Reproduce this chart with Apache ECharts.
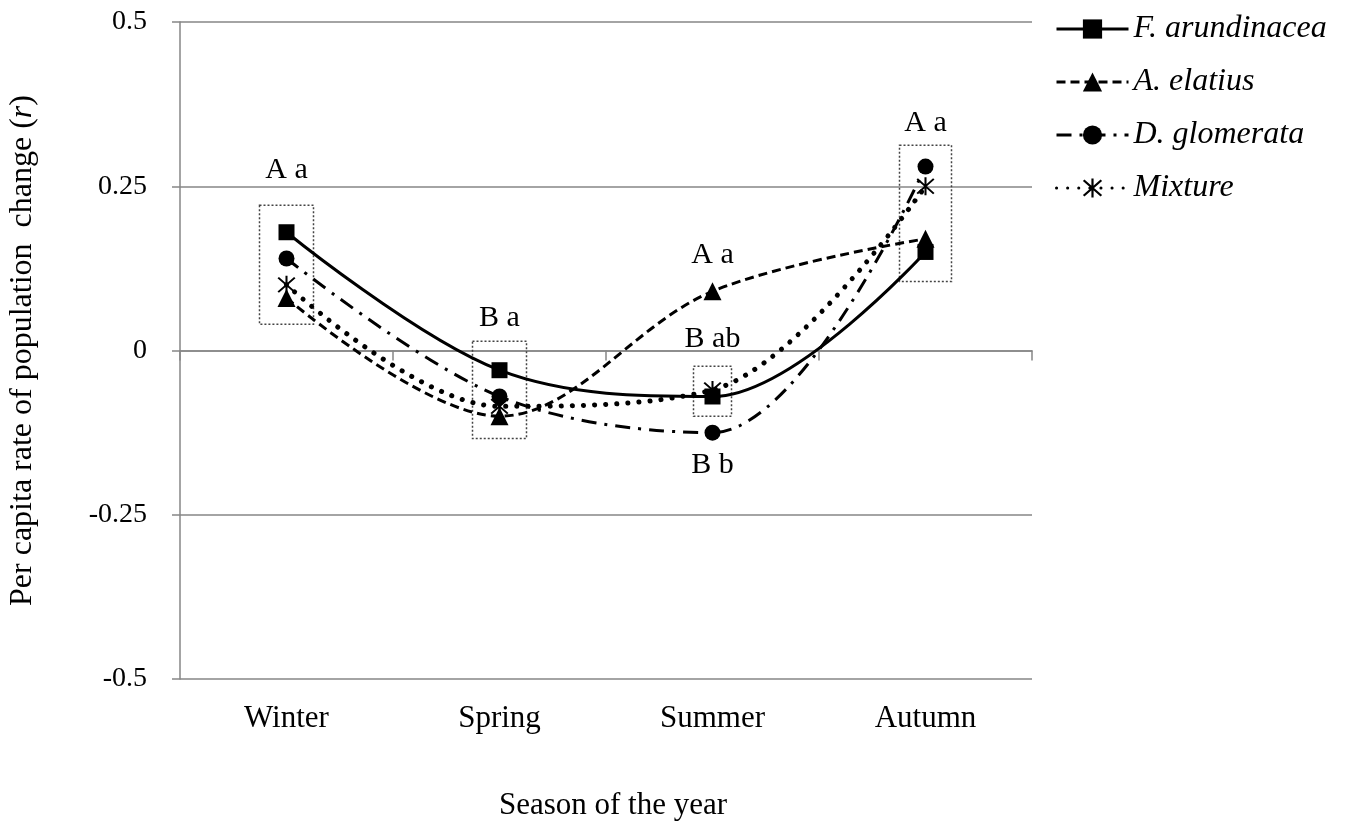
<!DOCTYPE html>
<html>
<head>
<meta charset="utf-8">
<script src="https://cdn.jsdelivr.net/npm/echarts@6/dist/echarts.min.js"></script>
<style>
  html, body { margin: 0; padding: 0; background: #fff; }
  #chart { width: 1345px; height: 824px; }
</style>
</head>
<body>
<div id="chart"></div>
<script>
// Seasons on the category axis
const seasons = ['Winter', 'Spring', 'Summer', 'Autumn'];

// Per capita rate of population change (r) for each population
const fArundinacea = [0.18, -0.03, -0.07, 0.15];
const aElatius     = [0.08, -0.10, 0.09, 0.17];
const dGlomerata   = [0.14, -0.07, -0.125, 0.28];
const mixture      = [0.10, -0.085, -0.06, 0.25];

// Significance letters: [season, r position, text]
const groupLetters = [
  ['Winter', 0.274, 'A a'],
  ['Spring', 0.049, 'B a'],
  ['Summer', 0.145, 'A a'],
  ['Summer', 0.018, 'B ab'],
  ['Summer', -0.175, 'B b'],
  ['Autumn', 0.346, 'A a']
];

// Ranges enclosed by the dotted group boxes: [season, low r, high r]
const groupRanges = [
  ['Winter', 0.040, 0.221],
  ['Spring', -0.134, 0.014],
  ['Summer', -0.100, -0.024],
  ['Autumn', 0.105, 0.3125]
];

// ---- layout / style ----
const FONT = 'Liberation Serif';
const GRID_COLOR = '#868686';
const boxHalfWidth = { Winter: 27, Spring: 27, Summer: 19, Autumn: 26 };

const asteriskPath = 'path://M4.5,0 L5.5,0 L5.5,10 L4.5,10 Z ' +
  'M0.6,1.3 L1.3,0.6 L9.4,8.7 L8.7,9.4 Z ' +
  'M8.7,0.6 L9.4,1.3 L1.3,9.4 L0.6,8.7 Z';

const SMOOTH = 0.35;

function lineSeries(name, data, symbol, symbolSize, lineStyle) {
  return {
    name: name,
    type: 'line',
    data: data,
    smooth: SMOOTH,
    symbol: symbol,
    symbolSize: symbolSize,
    showAllSymbol: true,
    itemStyle: { color: '#000' },
    lineStyle: Object.assign({ color: '#000', width: 3 }, lineStyle),
    z: 3
  };
}

const chart = echarts.init(document.getElementById('chart'), null, { renderer: 'canvas' });

chart.setOption({
  animation: false,
  backgroundColor: '#fff',
  grid: { left: 180, right: 313, top: 22, bottom: 145, containLabel: false, outerBoundsMode: 'none' },
  legend: {
    orient: 'vertical',
    left: 1050,
    top: 8,
    itemWidth: 72,
    itemHeight: 24,
    itemGap: 21,
    data: ['F. arundinacea', 'A. elatius', 'D. glomerata', 'Mixture'],
    lineStyle: { width: 3 },
    textStyle: { fontFamily: FONT, fontSize: 32, fontStyle: 'italic', color: '#000', lineHeight: 32 }
  },
  xAxis: [
    {
      type: 'category',
      data: seasons,
      position: 'bottom',
      boundaryGap: true,
      axisLine: { show: false, onZero: false },
      axisTick: { show: false },
      axisLabel: { fontFamily: FONT, fontSize: 31, color: '#000', margin: 24 },
      name: 'Season of the year',
      nameLocation: 'middle',
      nameGap: 111,
      nameTextStyle: { fontFamily: FONT, fontSize: 31, color: '#000', padding: [0, 0, 0, 14] }
    },
    {
      type: 'category',
      data: seasons,
      position: 'bottom',
      boundaryGap: true,
      axisLine: { show: true, onZero: true, lineStyle: { color: GRID_COLOR, width: 1.5 } },
      axisTick: { show: true, length: 10, lineStyle: { color: GRID_COLOR, width: 1.5 } },
      axisLabel: { show: false }
    }
  ],
  yAxis: {
    type: 'value',
    min: -0.5,
    max: 0.5,
    interval: 0.25,
    axisLine: { show: true, lineStyle: { color: GRID_COLOR, width: 1.5 } },
    axisTick: { show: true, length: 8, lineStyle: { color: GRID_COLOR, width: 1.5 } },
    splitLine: { show: true, lineStyle: { color: GRID_COLOR, width: 1.5 } },
    axisLabel: { fontFamily: FONT, fontSize: 28, color: '#000', margin: 33 },
    name: 'Per capita rate of population  change ({i|r})',
    nameLocation: 'middle',
    nameGap: 141,
    nameTextStyle: {
      fontFamily: FONT, fontSize: 32, color: '#000',
      rich: { i: { fontFamily: FONT, fontSize: 32, fontStyle: 'italic', color: '#000' } }
    }
  },
  series: [
    {
      name: 'groupBoxes',
      type: 'custom',
      silent: true,
      z: 1,
      data: groupRanges.map(g => [seasons.indexOf(g[0]), g[1], g[2]]),
      renderItem: function (params, api) {
        const idx = api.value(0);
        const top = api.coord([idx, api.value(2)]);
        const bottom = api.coord([idx, api.value(1)]);
        const hw = boxHalfWidth[seasons[idx]];
        return {
          type: 'rect',
          shape: { x: top[0] - hw, y: top[1], width: hw * 2, height: bottom[1] - top[1] },
          style: { fill: 'none', stroke: '#444', lineWidth: 1.5, lineDash: [2, 2] }
        };
      }
    },
    lineSeries('F. arundinacea', fArundinacea, 'rect', 16, { type: 'solid' }),
    lineSeries('A. elatius', aElatius, 'triangle', 18, { type: [9, 5] }),
    lineSeries('D. glomerata', dGlomerata, 'circle', 16, { type: [15, 8, 3, 8] }),
    lineSeries('Mixture', mixture, asteriskPath, 18, { type: [0.1, 11], cap: 'round', width: 5 }),
    {
      name: 'letters',
      type: 'custom',
      silent: true,
      z: 4,
      data: groupLetters.map(g => [seasons.indexOf(g[0]), g[1], g[2]]),
      dimensions: ['x', 'y', { name: 'text', type: 'ordinal' }],
      renderItem: function (params, api) {
        const pt = api.coord([api.value(0), api.value(1)]);
        return {
          type: 'text',
          x: pt[0],
          y: pt[1],
          style: {
            text: groupLetters[params.dataIndex][2],
            fontFamily: FONT,
            fontSize: 30,
            fill: '#000',
            align: 'center',
            verticalAlign: 'middle'
          }
        };
      }
    }
  ]
});
</script>
</body>
</html>
